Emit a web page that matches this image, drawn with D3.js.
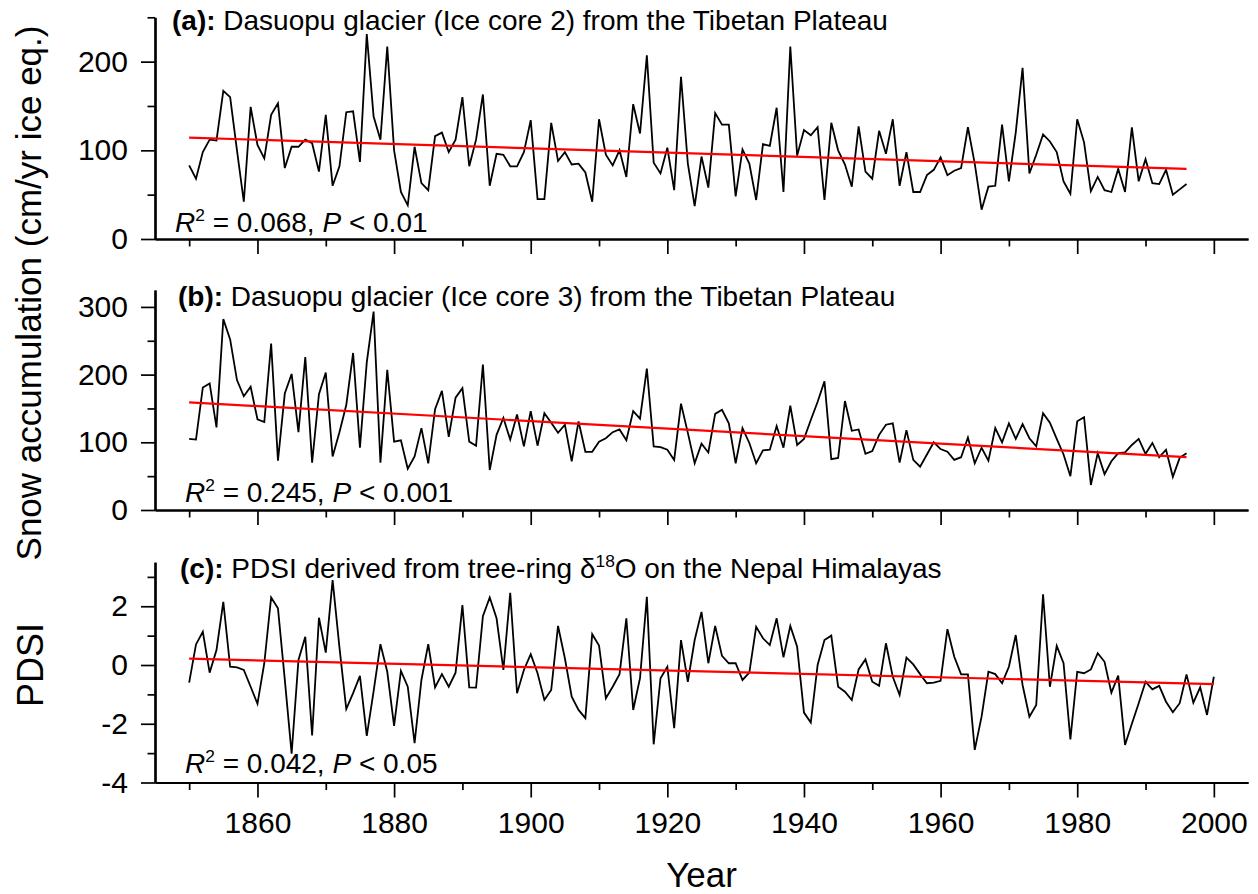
<!DOCTYPE html>
<html><head><meta charset="utf-8">
<script src="https://cdn.jsdelivr.net/npm/d3@7"></script>
<style>
body{margin:0;background:#fff;}
svg text{font-family:Arial,"Liberation Sans",sans-serif;fill:#000;}
</style>
</head><body>
<svg id="chart" width="1258" height="894"></svg>
<script>
// ---------------- data ----------------
const yearsIce = d3.range(1850, 1997);   // 1850..1996
const yearsPdsi = d3.range(1850, 2001);  // 1850..2000

const iceCore2 = [
 83,68,98,112,111,167,160,100,42,149,
 106,91,140,153,80,104,104,112,108,76,
 140,60,82,143,144,87,231,138,112,217,
 100,53,38,104,63,55,116,120,98,112,
 160,82,112,163,60,96,95,82,82,98,
 134,45,45,131,88,98,84,85,75,42,
 135,95,83,100,70,152,119,207,86,74,
 103,55,183,85,37,93,58,142,129,129,
 48,101,85,44,107,105,148,53,217,94,
 123,117,126,44,131,100,84,59,127,76,
 68,122,96,135,60,98,53,53,72,78,
 92,72,77,80,126,85,33,59,60,129,
 65,120,193,74,95,118,110,98,65,51,
 135,109,54,70,55,53,79,53,126,65,
 90,63,62,78,50,56,62
];

const iceCore3 = [
 105,104,181,187,122,282,252,192,168,182,
 134,130,246,73,172,201,115,226,70,171,
 203,79,115,155,232,92,218,293,70,207,
 101,103,61,79,121,69,149,176,108,166,
 180,101,95,215,59,111,136,104,141,94,
 146,95,143,129,114,126,72,131,86,86,
 101,106,115,119,103,146,135,209,94,93,
 89,74,157,114,69,98,85,142,148,128,
 69,121,99,69,88,89,124,92,154,96,
 105,133,160,190,75,77,161,117,119,83,
 87,111,126,128,70,118,74,64,82,100,
 90,86,74,78,107,69,92,73,121,100,
 128,105,127,106,94,143,129,105,82,50,
 131,137,37,84,53,72,84,85,96,105,
 83,99,78,89,49,77,84
];

const pdsi = [
 -0.6,0.7,1.13,-0.26,0.51,2.15,-0.06,-0.08,-0.17,-0.74,
 -1.32,0.06,2.3,1.93,-0.5,-3.02,0.17,0.96,-2.4,1.61,
 0.42,2.89,0.6,-1.5,-0.96,-0.37,-2.41,-0.9,0.71,-0.23,
 -2.07,-0.2,-0.74,-2.66,-0.51,0.71,-0.76,-0.31,-0.74,-0.26,
 2.04,-0.76,-0.77,1.66,2.3,1.59,-0.17,2.46,-0.96,-0.17,
 0.37,-0.28,-1.19,-0.85,1.33,0.23,-1.08,-1.53,-1.81,1.05,
 0.66,-1.13,-0.74,-0.31,1.59,-1.53,-0.45,2.32,-2.7,-0.45,
 -0.06,-2.15,0.85,-0.57,0.85,1.81,0.06,1.33,0.31,0.06,
 0.06,-0.51,-0.26,1.3,0.91,0.68,1.59,0.26,1.33,0.62,
 -1.62,-1.96,0,0.85,1.0,-0.74,-0.91,-1.19,-0.15,0.19,
 -0.57,-0.71,0.74,-0.4,-1.02,0.25,0.02,-0.31,-0.62,-0.6,
 -0.54,1.22,0.28,-0.32,-0.32,-2.89,-1.76,-0.23,-0.31,-0.62,
 -0.06,1.02,-0.68,-1.76,-1.36,2.41,-0.74,0.65,0.06,-2.53,
 -0.23,-0.28,-0.15,0.4,0.11,-0.94,-0.36,-2.72,-2.0,-1.3,
 -0.57,-0.83,-0.71,-1.25,-1.61,-1.3,-0.32,-1.28,-0.76,-1.7,
 -0.4
];

// linear trend values at first and last year of each record
const trendCore2 = [114.3, 79];
const trendCore3 = [159, 78];
const trendPdsi = [0.215, -0.65];

const xMajorTicks = [1860,1880,1900,1920,1940,1960,1980,2000];
const xMinorTicks = [1850,1870,1890,1910,1930,1950,1970,1990];

const panelLabels = ["(a):", "(b):", "(c):"];
const panelTitles = [
  " Dasuopu glacier (Ice core 2) from the Tibetan Plateau",
  " Dasuopu glacier (Ice core 3) from the Tibetan Plateau",
  null
];
const r2Values = ["0.068", "0.245", "0.042"];
const pValues = ["0.01", "0.001", "0.05"];

const yMajorA = [0,100,200], yMinorA = [50,150,250];
const yMajorB = [0,100,200,300], yMinorB = [50,150,250];
const yMajorC = [-4,-2,0,2], yMinorC = [-3,-1,1,3];

// ---------------- drawing ----------------
const svg = d3.select("#chart");
const x = d3.scaleLinear().domain([1845, 2005]).range([155, 1248]);
const FS = 28;     // titles & statistics
const TFS = 30;    // tick labels
const AFS = 35;    // axis titles
const plain = d => String(d);   // hyphen-minus like the original

const panels = [
  {years: yearsIce, vals: iceCore2, trend: trendCore2, y: d3.scaleLinear().domain([0,250]).range([239,17.3]),
   major: yMajorA, minor: yMinorA, tx: 172, ty: 30, sx: 175, sy: 232},
  {years: yearsIce, vals: iceCore3, trend: trendCore3, y: d3.scaleLinear().domain([0,325]).range([510,290]),
   major: yMajorB, minor: yMinorB, tx: 178, ty: 306, sx: 185, sy: 502},
  {years: yearsPdsi, vals: pdsi, trend: trendPdsi, y: d3.scaleLinear().domain([-4,3.5]).range([782.5,562.2]),
   major: yMajorC, minor: yMinorC, tx: 180, ty: 578, sx: 185, sy: 773}
];

function styleAxis(g, labels){
  g.select(".domain").attr("stroke","#000").attr("stroke-width",2.2);
  g.selectAll(".tick line").attr("stroke","#000").attr("stroke-width",1.7);
  g.selectAll(".tick text").attr("font-size",TFS).attr("font-family","Arial, 'Liberation Sans', sans-serif");
  if(!labels) g.selectAll(".tick text").remove();
}

panels.forEach((p, i) => {
  const gy = p.y;
  const yBase = gy.range()[0];
  const ymin = svg.append("g").attr("transform",`translate(${x.range()[0]},0)`)
    .call(d3.axisLeft(gy).tickValues(p.minor).tickSize(7.5).tickSizeOuter(0).tickFormat(""));
  styleAxis(ymin,false);
  const ymaj = svg.append("g").attr("transform",`translate(${x.range()[0]},0)`)
    .call(d3.axisLeft(gy).tickValues(p.major).tickSize(14).tickSizeOuter(0).tickPadding(13).tickFormat(plain));
  styleAxis(ymaj,true);
  const xmin = svg.append("g").attr("transform",`translate(0,${yBase})`)
    .call(d3.axisBottom(x).tickValues(xMinorTicks).tickSize(7.5).tickSizeOuter(0).tickFormat(""));
  styleAxis(xmin,false);
  const xmaj = svg.append("g").attr("transform",`translate(0,${yBase})`)
    .call(d3.axisBottom(x).tickValues(xMajorTicks).tickSize(15).tickSizeOuter(0).tickPadding(14).tickFormat(plain));
  styleAxis(xmaj, i === 2);

  const line = d3.line().x((d,k)=>x(p.years[k])).y(d=>gy(d));
  svg.append("path").datum(p.vals).attr("d",line)
    .attr("fill","none").attr("stroke","#000").attr("stroke-width",1.8).attr("stroke-linejoin","miter");
  const ends = [p.years[0], p.years[p.years.length-1]];
  svg.append("path").datum(p.trend)
    .attr("d", d3.line().x((d,k)=>x(ends[k])).y(d=>gy(d)))
    .attr("fill","none").attr("stroke","#ff0000").attr("stroke-width",2.2);

  const t = svg.append("text").attr("x",p.tx).attr("y",p.ty).attr("font-size",FS);
  t.append("tspan").attr("font-weight","bold").text(panelLabels[i]);
  if (panelTitles[i]) {
    t.append("tspan").text(panelTitles[i]);
  } else {
    t.append("tspan").text(" PDSI derived from tree-ring \u03B4");
    t.append("tspan").attr("font-size",FS*0.62).attr("dy",-FS*0.38).text("18");
    t.append("tspan").attr("dy",FS*0.38).text("O on the Nepal Himalayas");
  }
  const s = svg.append("text").attr("x",p.sx).attr("y",p.sy).attr("font-size",FS);
  s.append("tspan").attr("font-style","italic").text("R");
  s.append("tspan").attr("font-size",FS*0.62).attr("dy",-FS*0.38).text("2");
  s.append("tspan").attr("dy",FS*0.38).text(" = " + r2Values[i] + ", ");
  s.append("tspan").attr("font-style","italic").text("P");
  s.append("tspan").text(" < " + pValues[i]);
});

svg.append("text").attr("transform","translate(41,293) rotate(-90)")
  .attr("text-anchor","middle").attr("font-size",AFS).text("Snow accumulation (cm/yr ice eq.)");
svg.append("text").attr("transform","translate(43,665) rotate(-90)")
  .attr("text-anchor","middle").attr("font-size",AFS+1).text("PDSI");
svg.append("text").attr("x",(x.range()[0]+x.range()[1])/2).attr("y",887)
  .attr("text-anchor","middle").attr("font-size",AFS).text("Year");
</script>
</body></html>
